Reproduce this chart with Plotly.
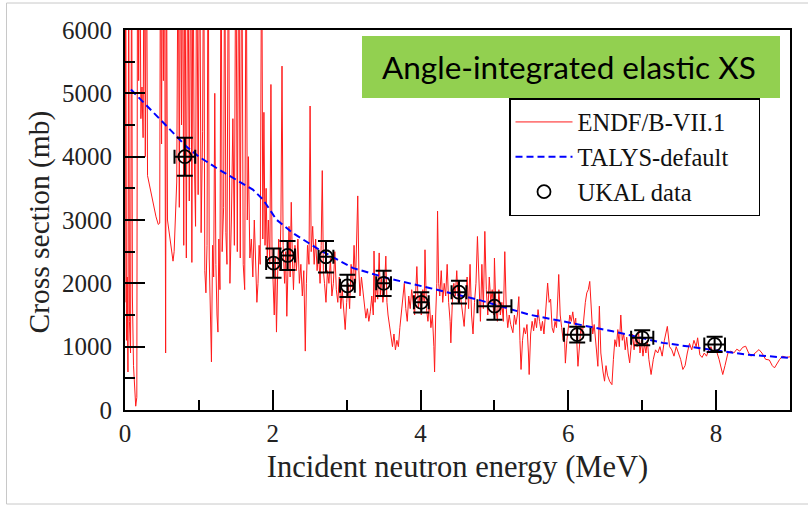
import plotly.graph_objects as go

# ENDF/B-VII.1 evaluated elastic cross section (spikes above 6000 mb are clipped)
endf_e = [
    0.000, 0.010, 0.020, 0.030, 0.040, 0.050, 0.060, 0.075, 0.090, 0.100, 0.115, 0.130, 0.145, 0.160,
    0.170, 0.185, 0.200, 0.215, 0.230, 0.245, 0.260, 0.275, 0.290, 0.305, 0.330, 0.360, 0.390, 0.420,
    0.450, 0.470, 0.480, 0.495, 0.505, 0.520, 0.535, 0.550, 0.560, 0.575, 0.600, 0.625, 0.650, 0.665,
    0.680, 0.700, 0.720, 0.735, 0.750, 0.765, 0.780, 0.795, 0.810, 0.830, 0.850, 0.870, 0.890, 0.905,
    0.920, 0.935, 0.955, 0.970, 0.990, 1.010, 1.030, 1.050, 1.065, 1.080, 1.095, 1.110, 1.125, 1.140,
    1.160, 1.170, 1.185, 1.200, 1.215, 1.230, 1.245, 1.258, 1.270, 1.285, 1.300, 1.315, 1.335, 1.350,
    1.365, 1.380, 1.400, 1.420, 1.440, 1.460, 1.480, 1.500, 1.520, 1.540, 1.560, 1.580, 1.600,
    1.620, 1.640, 1.655, 1.670, 1.690, 1.710, 1.730, 1.750, 1.770, 1.785, 1.800, 1.815, 1.830, 1.850,
    1.865, 1.880, 1.895, 1.910, 1.925, 1.940, 1.960, 1.975, 1.990, 2.005, 2.020, 2.035, 2.050, 2.065,
    2.080, 2.095, 2.110, 2.125, 2.140, 2.160, 2.175, 2.190, 2.205, 2.220, 2.235, 2.250, 2.265, 2.280,
    2.300, 2.320, 2.340, 2.360, 2.380, 2.400, 2.420, 2.440, 2.455, 2.470, 2.490, 2.505, 2.520, 2.540,
    2.560, 2.580, 2.600, 2.620, 2.640, 2.655, 2.670, 2.685, 2.700, 2.720, 2.740, 2.760, 2.780, 2.800,
    2.820, 2.840, 2.860, 2.880, 2.900, 2.920, 2.940, 2.960, 2.980, 3.000, 3.020, 3.040, 3.060, 3.080,
    3.100, 3.120, 3.150, 3.165, 3.180,
    3.200, 3.220, 3.240, 3.260, 3.280, 3.300, 3.320, 3.340, 3.360, 3.370, 3.385, 3.400, 3.420, 3.440,
    3.455, 3.470, 3.490, 3.510, 3.530, 3.545, 3.560, 3.580, 3.600, 3.620, 3.640, 3.660, 3.680, 3.700,
    3.720, 3.740, 3.760, 3.780, 3.800, 3.820, 3.840, 3.860, 3.880, 3.900, 3.920, 3.950, 3.970, 3.990,
    4.010, 4.030, 4.050, 4.060, 4.080, 4.100, 4.120, 4.140, 4.160, 4.180, 4.190, 4.205, 4.220, 4.230,
    4.245, 4.260, 4.280, 4.300, 4.320, 4.340, 4.360, 4.380, 4.400, 4.410, 4.430, 4.450, 4.470, 4.490,
    4.510, 4.530, 4.560, 4.590, 4.610, 4.630, 4.650, 4.670, 4.690, 4.710, 4.730, 4.750, 4.770, 4.790,
    4.810, 4.830, 4.850,
    4.870, 4.890, 4.910, 4.930, 4.950, 4.970, 4.990, 5.000, 5.020, 5.040, 5.060, 5.080, 5.100, 5.120,
    5.140, 5.160, 5.180, 5.200, 5.220, 5.250, 5.270, 5.290, 5.310, 5.330, 5.345, 5.360, 5.380, 5.400,
    5.420, 5.440, 5.460, 5.470, 5.490, 5.510, 5.530, 5.550, 5.570, 5.590, 5.610, 5.630, 5.650, 5.670,
    5.690, 5.720, 5.740, 5.760, 5.780, 5.800, 5.820, 5.840, 5.870, 5.890, 5.910, 5.930, 5.945, 5.960,
    5.980, 6.000, 6.020, 6.040, 6.060, 6.080, 6.100, 6.130, 6.150, 6.170, 6.190, 6.210, 6.230, 6.250,
    6.270, 6.290, 6.310, 6.330, 6.350, 6.370, 6.400, 6.420, 6.440, 6.470, 6.490, 6.510,
    6.530, 6.560, 6.590, 6.610, 6.630, 6.650, 6.670, 6.690, 6.710, 6.730, 6.750, 6.770, 6.790, 6.810,
    6.830, 6.850, 6.870, 6.890, 6.910, 6.930, 6.950, 6.970, 6.990, 7.010, 7.030, 7.050, 7.070, 7.090,
    7.120, 7.150, 7.180, 7.210, 7.240, 7.270, 7.300, 7.340, 7.370, 7.400, 7.430, 7.460, 7.490, 7.520,
    7.550, 7.580, 7.610, 7.640, 7.670, 7.700, 7.730, 7.750, 7.780, 7.810, 7.840, 7.870, 7.900, 7.930,
    7.960, 8.000, 8.040, 8.070, 8.090, 8.120, 8.160, 8.200, 8.240, 8.280, 8.320, 8.360, 8.400, 8.440,
    8.470, 8.510, 8.550, 8.580, 8.620, 8.670, 8.720, 8.760, 8.790, 8.820, 8.860, 8.900, 8.950, 9.000,
]
endf_xs = [
    1700, 8000, 1100, 2100, 600, 8000, 1400, 900, 8000, 1800, 700, 300, 60, 200,
    8000, 5200, 8000, 4600, 5100, 4300, 8000, 4000, 8000, 3700, 3550, 3380, 3200, 3050,
    2930, 2950, 8000, 4200, 8000, 5200, 8000, 900, 8000, 3000, 2750, 2550, 2350, 2500,
    2900, 3600, 8000, 3200, 8000, 4500, 8000, 2600, 8000, 2400, 8000, 3300, 8000, 2330,
    8000, 4200, 2900, 8000, 3400, 8000, 2800, 4400, 8000, 2200, 1850, 2600, 8000, 2400,
    1400, 760, 2600, 2100, 5000, 2300, 1500, 1230, 2700, 1900, 8000, 2500, 3200, 8000,
    2800, 2300, 8000, 2000, 3000, 4600, 2600, 8000, 2500, 8000, 2400, 8000, 2300,
    1900, 8000, 3000, 4000, 2400, 2700, 2100, 3000, 2200, 1700, 2000, 2600, 2300, 8000,
    2700, 4700, 2600, 3500, 2400, 3000, 2300, 5140, 2500, 1800, 1500, 2400, 1230, 2100,
    2700, 2200, 3000, 5430, 2600, 2000, 2500, 1480, 2300, 2900, 2100, 3280, 2400, 1900,
    2600, 2200, 2700, 2000, 2300, 1800, 2200, 930, 2000, 2600, 2300, 4800, 2500, 2900,
    2300, 2700, 2200, 2500, 2000, 2600, 3780, 2200, 2000, 1700, 2200, 2000, 2400, 1800,
    2000, 2500, 1900, 1700, 2100, 1600, 1900, 1500, 1270, 1700, 2000, 1600, 2300, 1900,
    2600, 2000, 3380, 2200, 1800,
    2100, 1900, 1600, 1450, 1600, 1400, 1550, 1800, 1500, 2510, 1700, 2000, 1750, 2480,
    1800, 2100, 1700, 1900, 2430, 1700, 1500, 1300, 1150, 1000, 1200, 950, 1100, 1000,
    1300, 1500, 1700, 2000, 1600, 1400, 1800, 1600, 1900, 1700, 1500, 2265, 1600, 1800,
    1500, 1900, 1700, 2530, 1600, 1400, 1700, 1300, 1500, 1000, 600, 1500, 2000, 3140,
    2000, 1800, 2200, 1700, 2000, 1800, 2300, 1700, 1400, 1060, 1700, 2000, 1800, 2200,
    1700, 1900, 1600, 1320, 1700, 2100, 1600, 2300, 1500, 1200, 1700, 2000, 2740, 1900,
    1400, 2300, 1600,
    2820, 1900, 1500, 2100, 1700, 1900, 1500, 2400, 1600, 1400, 1900, 1500, 1700, 1400,
    2500, 1600, 1300, 1500, 1350, 1220, 1500, 1350, 1500, 1790, 1100, 640, 1100, 1300,
    1200, 1350, 900, 560, 1200, 1400, 1250, 1450, 1300, 1585, 1400, 1250, 1400, 1200,
    1500, 2005, 1700, 1750, 1300, 1220, 1400, 1300, 2140, 1500, 1300, 1100, 1250, 740,
    1100, 1300, 1500, 1400, 1550, 1350, 1450, 690, 1000, 1300, 1200, 1500, 1700, 1850,
    1900, 2030, 1500, 1200, 1350, 1100, 690, 1640, 900, 600, 455, 700,
    550, 450, 400, 800, 1110, 1000, 1270, 1000, 1500, 1100, 1200, 950, 1150, 900,
    745, 1000, 1200, 950, 1150, 1000, 1250, 900, 1100, 850, 1050, 900, 1100, 800,
    560, 800, 950, 900, 1000, 850, 1100, 1320, 1000, 950, 850, 1000, 900, 800,
    640, 700, 900, 1050, 950, 1100, 1000, 1140, 870, 830, 900, 850, 950, 1000,
    900, 950, 800, 650, 560, 700, 900, 930, 900, 960, 930, 990, 1007, 900,
    850, 880, 930, 954, 900, 800, 790, 700, 665, 720, 800, 850, 830, 840,
]

# TALYS-default calculation
talys_e = [0.08, 0.25, 0.50, 0.83, 1.00, 1.28, 1.50, 1.73, 1.87, 2.05, 2.27, 2.63, 3.08, 3.54,
           4.12, 4.80, 5.47, 6.02, 6.60, 7.28, 7.96, 8.41, 9.00]
talys_xs = [5060, 4860, 4560, 4160, 4000, 3790, 3640, 3480, 3320, 3005, 2795, 2530, 2243, 2085,
            1927, 1735, 1506, 1375, 1243, 1060, 954, 875, 823]

# UKAL measured data
ukal_e = [0.81, 2.01, 2.20, 2.72, 3.01, 3.50, 4.01, 4.52, 5.00, 6.12, 7.00, 7.98]
ukal_xs = [4000, 2320, 2440, 2420, 1960, 2000, 1700, 1860, 1640, 1190, 1140, 1035]
ukal_dxs = [300, 230, 230, 250, 175, 200, 160, 180, 215, 125, 118, 120]
ukal_de = [0.14, 0.10, 0.10, 0.10, 0.10, 0.10, 0.10, 0.10, 0.23, 0.18, 0.15, 0.14]

x_ticks = [0, 2, 4, 6, 8]
y_ticks = [0, 1000, 2000, 3000, 4000, 5000, 6000]

serif = "Liberation Serif, Times New Roman, serif"
pad = "\u00a0" * 4  # invisible padding that widens the legend box

fig = go.Figure()
fig.add_trace(go.Scatter(
    x=endf_e, y=endf_xs, mode="lines", name="ENDF/B-VII.1",
    line=dict(color="#ff1a1a", width=1),
))
fig.add_trace(go.Scatter(
    x=talys_e, y=talys_xs, mode="lines", name="TALYS-default" + pad,
    line=dict(color="#0000ff", width=2, dash="7px,4px"),
))
fig.add_trace(go.Scatter(
    x=ukal_e, y=ukal_xs, mode="markers", name="UKAL data",
    marker=dict(symbol="circle-open", size=13, color="black", line=dict(width=1.8, color="black")),
    error_y=dict(type="data", array=ukal_dxs, color="black", thickness=2, width=8),
    error_x=dict(type="data", array=ukal_de, color="black", thickness=2, width=7),
))

W, H = 808, 505
L, R, T, B = 125, 18, 30, 95
pw, ph = W - L - R, H - T - B


def px(x):
    return (x - L) / pw


def py(y):
    return (H - B - y) / ph


fig.update_layout(
    width=W, height=H,
    margin=dict(l=L, r=R, t=T, b=B),
    paper_bgcolor="white", plot_bgcolor="white",
    showlegend=True,
    legend=dict(
        x=px(509), y=py(98), xanchor="left", yanchor="top",
        font=dict(family=serif, size=24.5, color="#111"),
        bordercolor="black", borderwidth=1.5, bgcolor="white",
        tracegroupgap=0, itemwidth=57,
    ),
    xaxis=dict(
        range=[0, 9], tickvals=x_ticks, ticktext=[str(v) for v in x_ticks],
        ticks="inside", ticklen=20, tickwidth=2, tickcolor="black",
        minor=dict(dtick=1, ticks="inside", ticklen=10, tickwidth=2, tickcolor="black"),
        showline=True, linewidth=2, linecolor="black", mirror=True,
        showgrid=False, zeroline=False,
        tickfont=dict(family=serif, size=25, color="#222"),
        title=dict(text="Incident neutron energy (MeV)", font=dict(family=serif, size=30.5, color="#222"), standoff=10),
    ),
    yaxis=dict(
        range=[0, 6000], tickvals=y_ticks, ticktext=[str(v) for v in y_ticks],
        ticks="inside", ticklen=20, tickwidth=2, tickcolor="black",
        minor=dict(dtick=500, ticks="inside", ticklen=10, tickwidth=2, tickcolor="black"),
        showline=True, linewidth=2, linecolor="black", mirror=True,
        showgrid=False, zeroline=False,
        tickfont=dict(family=serif, size=25, color="#222"),
        ticklabelstandoff=6,
    ),
    shapes=[
        dict(type="rect", xref="paper", yref="paper",
             x0=px(6.5), x1=px(830), y0=py(504), y1=py(3),
             line=dict(color="#c8c8c8", width=1), fillcolor="rgba(0,0,0,0)", layer="below"),
        dict(type="rect", xref="paper", yref="paper",
             x0=px(362), x1=px(780), y0=py(98), y1=py(36),
             line=dict(width=0), fillcolor="#92d050", layer="above"),
    ],
    annotations=[
        dict(text="Angle-integrated elastic XS", xref="paper", yref="paper",
             x=px(569), y=py(67), xanchor="center", yanchor="middle", showarrow=False,
             font=dict(family="Lato, Carlito, Calibri, sans-serif", size=31.5, color="black")),
        dict(text="Cross section (mb)", xref="paper", yref="paper",
             x=px(38.5), y=py(222), xanchor="center", yanchor="middle", showarrow=False,
             textangle=-90,
             font=dict(family=serif, size=29.5, color="#222")),
    ],
)

fig.write_html("out.html")
